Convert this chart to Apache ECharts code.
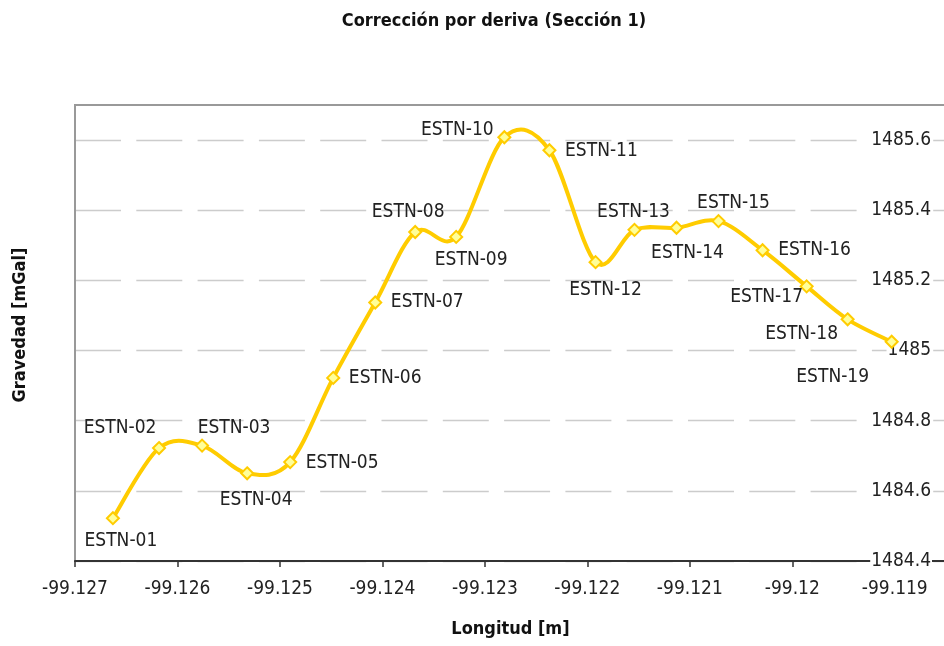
<!DOCTYPE html>
<html>
<head>
<meta charset="utf-8">
<script src="https://cdn.jsdelivr.net/npm/echarts@6/dist/echarts.min.js"></script>
<style>
  html, body { margin: 0; padding: 0; background: #fff; }
  #chart { width: 944px; height: 646px; }
</style>
</head>
<body>
<div id="chart"></div>
<script>
// Drift-corrected gravity readings along section 1
const stations = ['ESTN-01','ESTN-02','ESTN-03','ESTN-04','ESTN-05','ESTN-06','ESTN-07','ESTN-08','ESTN-09','ESTN-10',
                  'ESTN-11','ESTN-12','ESTN-13','ESTN-14','ESTN-15','ESTN-16','ESTN-17','ESTN-18','ESTN-19'];
const longitudes = [-99.12663, -99.12618, -99.12576, -99.12532, -99.12490, -99.12448, -99.12407, -99.12368, -99.12328, -99.12281,
                    -99.12237, -99.12192, -99.12154, -99.12113, -99.12072, -99.12029, -99.11986, -99.11946, -99.11903];
const gravity = [1484.522, 1484.722, 1484.729, 1484.650, 1484.682, 1484.922, 1485.137, 1485.338, 1485.324, 1485.608,
                 1485.571, 1485.252, 1485.344, 1485.350, 1485.369, 1485.286, 1485.183, 1485.089, 1485.025];

// Where each station name sits relative to its marker (px)
const labelShift = [[8,23],[-39,-20],[32,-18],[9,27],[52,1],[52,0],[52,0],[-7,-20],[15,23],[-47,-7],
                    [52,1],[10,28],[-1,-18],[11,25],[15,-18],[52,0],[-40,11],[-46,15],[-59,35]];

const FONT = '"DejaVu Sans Condensed", "DejaVu Sans", sans-serif';
const LINE_COLOR = '#FFCC00';

const pairs = longitudes.map((lon, i) => [lon, gravity[i]]);
const points = pairs.map((v, i) => ({
  name: stations[i],
  value: v,
  label: { offset: labelShift[i] }
}));

// Smooth curve through the stations (Catmull-Rom, converted to cubic Béziers)
function renderCurve(params, api) {
  if (params.dataIndex !== 0) return null;
  const p = pairs.map(v => api.coord(v));
  const n = p.length;
  let d = 'M' + p[0][0] + ' ' + p[0][1];
  for (let i = 0; i < n - 1; i++) {
    const a = p[Math.max(i - 1, 0)], b = p[i], c = p[i + 1], e = p[Math.min(i + 2, n - 1)];
    const c1x = b[0] + (c[0] - a[0]) / 6, c1y = b[1] + (c[1] - a[1]) / 6;
    const c2x = c[0] - (e[0] - b[0]) / 6, c2y = c[1] - (e[1] - b[1]) / 6;
    d += ' C' + c1x + ' ' + c1y + ' ' + c2x + ' ' + c2y + ' ' + c[0] + ' ' + c[1];
  }
  return {
    type: 'path',
    shape: { pathData: d },
    style: { fill: 'none', stroke: LINE_COLOR, lineWidth: 4, lineJoin: 'round', lineCap: 'round' }
  };
}

const chart = echarts.init(document.getElementById('chart'), null, { renderer: 'canvas' });
chart.setOption({
  animation: false,
  backgroundColor: '#fff',
  title: {
    text: 'Corrección por deriva (Sección 1)',
    left: 489, top: 7, textAlign: 'center',
    textStyle: { fontFamily: FONT, fontSize: 18, fontWeight: 'bold', color: '#111' }
  },
  grid: {
    left: 75, top: 105, width: 871, height: 456,
    show: true, borderColor: '#999', borderWidth: 2,
    outerBoundsMode: 'none'
  },
  xAxis: {
    type: 'value',
    min: -99.127, max: -99.1185, interval: 0.001,
    name: 'Longitud [m]', nameLocation: 'middle', nameGap: 59,
    nameTextStyle: { fontFamily: FONT, fontSize: 18, fontWeight: 'bold', color: '#111' },
    axisLine: { show: true, onZero: false, lineStyle: { color: '#333', width: 2 } },
    axisTick: { show: true, inside: false, length: 6, lineStyle: { color: '#333', width: 1.5 } },
    axisLabel: {
      fontFamily: FONT, fontSize: 19, color: '#222', margin: 19,
      showMaxLabel: false,
      formatter: v => String(+v.toFixed(3))
    },
    splitLine: { show: false }
  },
  yAxis: [{
    type: 'value', position: 'right',
    min: 1484.4, max: 1485.7, interval: 0.2,
    axisLine: { show: false },
    axisTick: { show: false },
    axisLabel: {
      inside: true, margin: 14, showMaxLabel: false,
      fontFamily: FONT, fontSize: 19, color: '#222',
      backgroundColor: '#fff', padding: [0, 1],
      formatter: v => String(+v.toFixed(1))
    },
    splitLine: {
      show: true, showMaxLine: false,
      lineStyle: { color: '#cccccc', width: 1.3, type: [46, 15.3] }
    }
  }, {
    type: 'value', position: 'left',
    min: 1484.4, max: 1485.7, interval: 0.2,
    name: 'Gravedad [mGal]', nameLocation: 'middle', nameGap: 46,
    nameTextStyle: { fontFamily: FONT, fontSize: 18, fontWeight: 'bold', color: '#111', padding: [0, 0, 0, 16] },
    axisLine: { show: true, lineStyle: { color: '#999', width: 2 } },
    axisTick: { show: false },
    axisLabel: { show: false },
    splitLine: { show: false }
  }],
  series: [{
    type: 'custom',
    renderItem: renderCurve,
    data: pairs,
    encode: { x: 0, y: 1 },
    silent: true,
    z: 2
  }, {
    type: 'line',
    data: points,
    lineStyle: { opacity: 0 },
    symbol: 'diamond',
    symbolSize: 12,
    itemStyle: { color: '#FFFF99', borderColor: LINE_COLOR, borderWidth: 2 },
    label: {
      show: true, position: 'inside',
      formatter: p => p.name,
      fontFamily: FONT, fontSize: 19, color: '#222',
      align: 'center', verticalAlign: 'middle'
    },
    z: 3
  }]
});
</script>
</body>
</html>
